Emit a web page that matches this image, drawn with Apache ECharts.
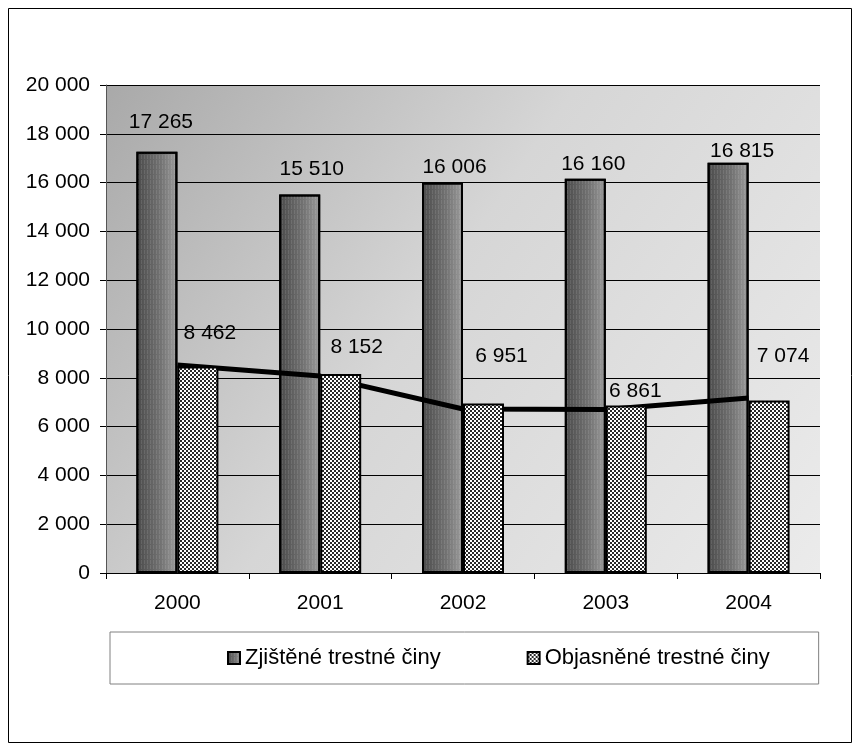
<!DOCTYPE html>
<html>
<head>
<meta charset="utf-8">
<script src="https://cdn.jsdelivr.net/npm/echarts@6/dist/echarts.min.js"></script>
<style>
  html, body { margin: 0; padding: 0; background: #fff; }
  #chart { width: 861px; height: 752px; }
</style>
</head>
<body>
<div id="chart"></div>
<script>
// data
const years = ["2000", "2001", "2002", "2003", "2004"];
const zjistene = [17265, 15510, 16006, 16160, 16815];
const objasnene = [8462, 8152, 6951, 6861, 7074];
// hand drawn trend line
const trend = [8520, 8070, 6720, 6700, 7170];
const yTicks = [0, 2000, 4000, 6000, 8000, 10000, 12000, 14000, 16000, 18000, 20000];

// label nudges (dx, dy) - labels were moved by hand in the original
const shift1 = [[4, -19], [12, -15], [12, -5], [8, -4], [14, -1]];
const shift2 = [[12, -23], [16, -16], [18, -37], [9, -4], [14, -34]];

const FONT = "Liberation Sans";
const FS = 21;
const fmt = (v) => String(v).replace(/\B(?=(\d{3})+(?!\d))/g, " ");

// checker pattern for second series
function checker() {
  const c = document.createElement("canvas");
  c.width = 4;
  c.height = 4;
  const ctx = c.getContext("2d");
  ctx.fillStyle = "#ffffff";
  ctx.fillRect(0, 0, 4, 4);
  ctx.fillStyle = "#2a2a2a";
  ctx.fillRect(0, 0, 2, 2);
  ctx.fillRect(2, 2, 2, 2);
  return c;
}

const chart = echarts.init(document.getElementById("chart"), null, { renderer: "canvas" });

const barGrad = new echarts.graphic.LinearGradient(0, 0, 1, 0, [
  { offset: 0, color: "#4a4a4a" },
  { offset: 0.6, color: "#737373" },
  { offset: 1, color: "#9c9c9c" },
]);

const option = {
  animation: false,
  textStyle: { fontFamily: FONT, color: "#000" },
  graphic: [
    {
      type: "rect",
      z: -10,
      shape: { x: 8.5, y: 8.5, width: 843, height: 734 },
      style: { fill: "none", stroke: "#000", lineWidth: 1 },
    },
  ],
  grid: {
    left: 106,
    right: 41,
    top: 85,
    bottom: 179,
    show: true,
    borderWidth: 0,
    backgroundColor: new echarts.graphic.LinearGradient(0, 0, 1, 1, [
      { offset: 0, color: "#a9a9a9" },
      { offset: 0.45, color: "#d6d6d6" },
      { offset: 1, color: "#ebebeb" },
    ]),
  },
  legend: {
    left: 110,
    top: 632,
    orient: "horizontal",
    borderColor: "#808080",
    borderWidth: 1,
    padding: [15, 49, 15, 117],
    itemGap: 86,
    itemWidth: 12,
    itemHeight: 12,
    icon: "rect",
    textStyle: { fontFamily: FONT, fontSize: 22, color: "#000" },
    data: ["Zjištěné trestné činy", "Objasněné trestné činy"],
  },
  xAxis: {
    type: "category",
    data: years,
    boundaryGap: true,
    axisLine: { show: true, lineStyle: { color: "#000", width: 1 } },
    axisTick: { show: true, length: 6, alignWithLabel: false, lineStyle: { color: "#000" } },
    axisLabel: { fontFamily: FONT, fontSize: FS, color: "#000", margin: 20 },
    splitLine: { show: false },
  },
  yAxis: {
    type: "value",
    min: 0,
    max: 20000,
    interval: 2000,
    axisLine: { show: true, lineStyle: { color: "#555", width: 1 } },
    axisTick: { show: true, length: 6, lineStyle: { color: "#000" } },
    axisLabel: {
      fontFamily: FONT,
      fontSize: FS,
      color: "#000",
      margin: 16,
      formatter: (v) => (yTicks.indexOf(v) >= 0 ? fmt(v) : ""),
    },
    splitLine: { show: true, lineStyle: { color: "#000", width: 1 } },
  },
  series: [
    {
      name: "Zjištěné trestné činy",
      type: "bar",
      z: 2,
      barWidth: 41,
      barGap: "0%",
      itemStyle: {
        color: barGrad,
        borderColor: "#000",
        borderWidth: 2,
        decal: {
          symbol: "rect",
          dashArrayX: [1, 2],
          dashArrayY: [4, 1],
          color: "rgba(255,255,255,0.10)",
        },
      },
      label: {
        show: true,
        position: "top",
        distance: 0,
        fontFamily: FONT,
        fontSize: FS,
        color: "#000",
        formatter: (p) => fmt(p.value),
      },
      data: zjistene.map((v, i) => ({ value: v, label: { offset: shift1[i] } })),
    },
    {
      name: "trend",
      type: "line",
      z: 3,
      symbol: "none",
      lineStyle: { color: "#000", width: 5 },
      itemStyle: { color: "#000" },
      data: trend,
      legendHoverLink: false,
    },
    {
      name: "Objasněné trestné činy",
      type: "bar",
      z: 4,
      barWidth: 41,
      barGap: "0%",
      itemStyle: {
        color: { image: checker(), repeat: "repeat" },
        borderColor: "#000",
        borderWidth: 2,
      },
      label: {
        show: true,
        position: "top",
        distance: 0,
        fontFamily: FONT,
        fontSize: FS,
        color: "#000",
        formatter: (p) => fmt(p.value),
      },
      data: objasnene.map((v, i) => ({ value: v, label: { offset: shift2[i] } })),
    },
  ],
};

chart.setOption(option);
</script>
</body>
</html>
